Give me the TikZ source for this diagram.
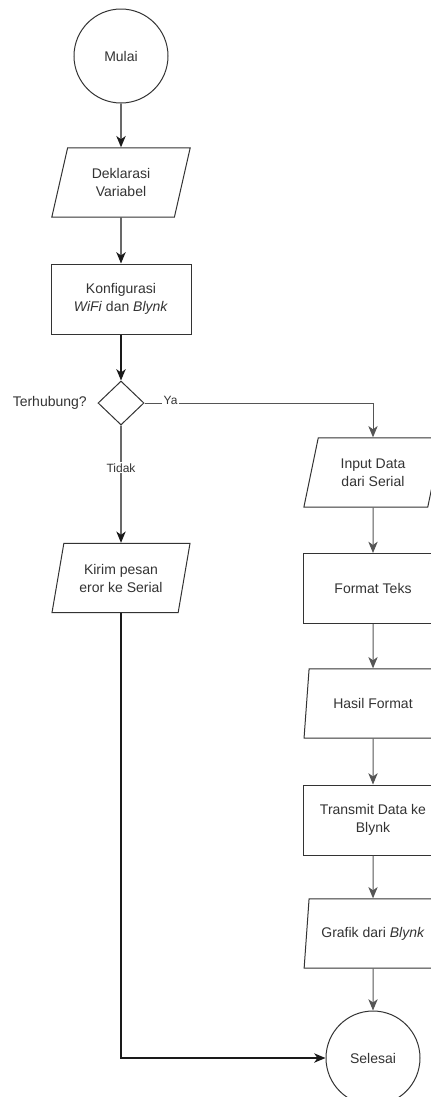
\documentclass[tikz,border=0pt]{standalone}
\usepackage{fontspec}
\setmainfont{Liberation Sans}
\usetikzlibrary{shapes.geometric,arrows.meta}
\definecolor{ink}{HTML}{333333}
\definecolor{wire}{HTML}{1A1A1A}
\definecolor{wirelight}{HTML}{555555}

\begin{document}
\begin{tikzpicture}[x=0.75pt,y=-0.75pt,
  base/.style={draw=ink, line width=0.75pt, text=ink,
    font=\fontsize{10.5}{13.5}\selectfont, align=center, inner sep=0pt},
  terminal/.style={base, circle, minimum size=70.5pt},
  process/.style={base, rectangle, minimum width=105pt, minimum height=52.5pt},
  io/.style={base, trapezium, trapezium left angle=73, trapezium right angle=107,
    trapezium stretches=true, minimum width=104pt, minimum height=52pt},
  decision/.style={base, diamond, minimum width=34.5pt, minimum height=33pt},
  flow/.style={draw=wire, line width=1.1pt,
    -{Stealth[length=8.5pt,width=7pt,inset=2.5pt]}},
  flowlight/.style={draw=wirelight, line width=0.75pt,
    -{Stealth[length=8.5pt,width=7pt,inset=2.5pt]}},
  edgelabel/.style={fill=white, inner sep=1pt, text=ink,
    font=\fontsize{9}{11}\selectfont},
  sidelabel/.style={text=ink, inner sep=0pt, font=\fontsize{10.5}{12.5}\selectfont}
]
\useasboundingbox (0,0) rectangle (431,1097);
\clip (0,0) rectangle (431,1097);
\fill[white] (0,0) rectangle (431,1097);

% main column
\node[terminal] (start) at (121,56) {Mulai};
\node[io] (decl) at (121,182.5) {Deklarasi\\Variabel};
\node[process] (conf) at (121,299) {Konfigurasi\\\textit{WiFi} dan \textit{Blynk}};
\node[decision] (conn) at (121,403) {};
\node[sidelabel, anchor=east] (ask) at (87,403) {Terhubung?};
\node[io] (err) at (121,578) {Kirim pesan\\eror ke Serial};

% branch taken when the connection succeeds
\node[io] (inp) at (373,472.5) {Input Data\\dari Serial};
\node[process] (fmt) at (373,588.5) {Format Teks};
\node[io] (res) at (373,703.5) {Hasil Format};
\node[process] (send) at (373,820) {Transmit Data ke\\Blynk};
\node[io] (graph) at (373,933.5) {Grafik dari \textit{Blynk}};
\node[terminal] (stop) at (373,1058) {Selesai};

% connectors
\draw[flow] (start) -- (decl);
\draw[flow] (decl) -- (conf);
\draw[flow] (conf) -- (conn);
\draw[flow] (conn) -- node[edgelabel, pos=0.36] {Tidak} (err);
\draw[flowlight] (conn.east) -| node[edgelabel, pos=0.057, yshift=2pt] {Ya} (inp.north);
\draw[flowlight] (inp) -- (fmt);
\draw[flowlight] (fmt) -- (res);
\draw[flowlight] (res) -- (send);
\draw[flowlight] (send) -- (graph);
\draw[flowlight] (graph) -- (stop);
\draw[flow] (err.south) |- (stop.west);
\end{tikzpicture}
\end{document}
